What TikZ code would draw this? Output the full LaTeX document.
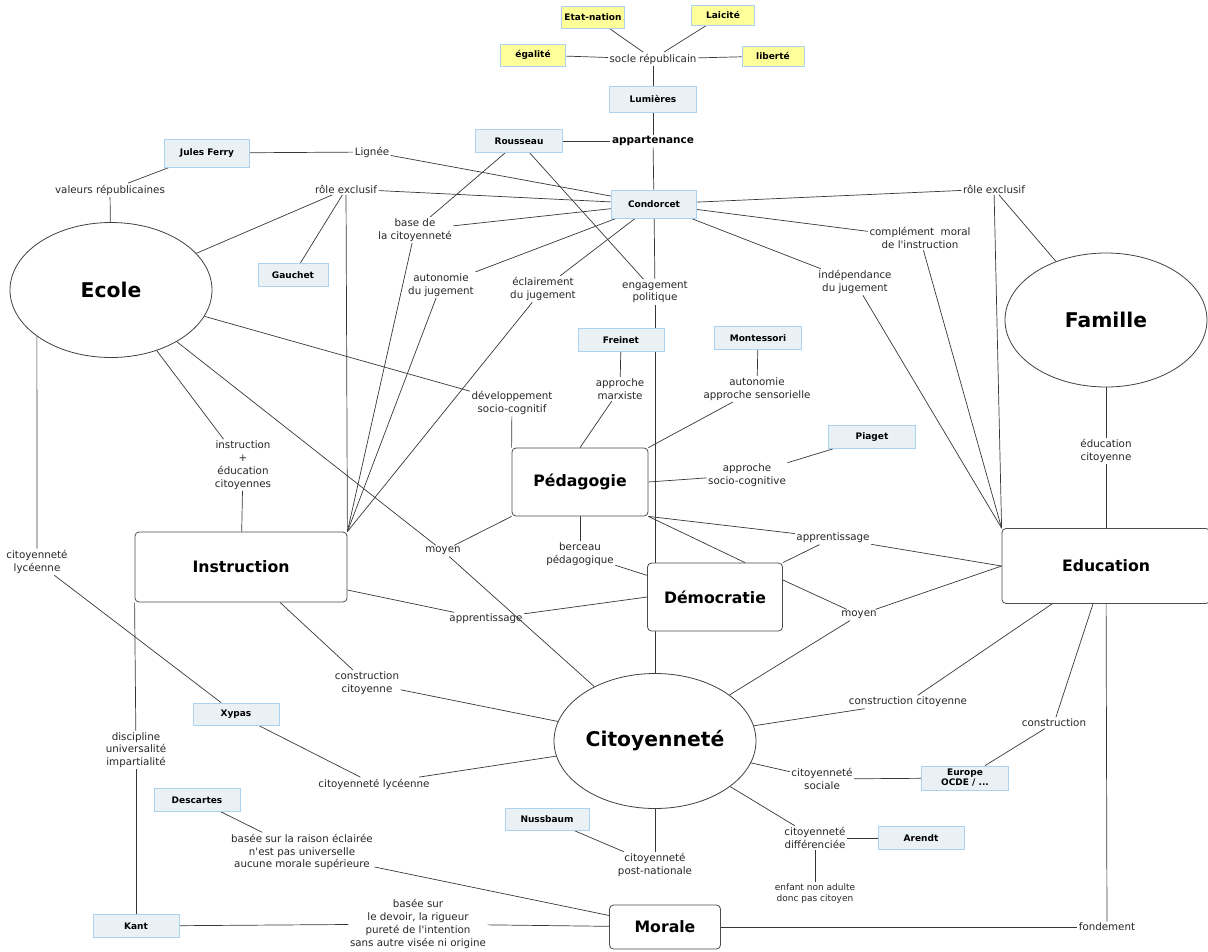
\documentclass[tikz,border=0pt]{standalone}
\usepackage{fontspec}
\setmainfont{DejaVu Sans}
\usetikzlibrary{shapes.geometric,backgrounds}
\definecolor{cbfill}{RGB}{233,241,245}
\definecolor{cbdraw}{RGB}{172,210,240}
\definecolor{ylw}{RGB}{255,255,153}
\definecolor{ln}{RGB}{55,55,55}
\tikzset{
  lbl/.style={align=center,font=\fontsize{10.3}{12.8}\selectfont,inner sep=1.5pt,text=black!85},
  person/.style={draw=cbdraw,fill=cbfill,font=\bfseries\fontsize{9}{10.5}\selectfont,minimum width=86pt,minimum height=23pt,inner sep=0pt,line width=0.8pt},
  ybox/.style={person,fill=ylw},
  mainbox/.style={draw=black!70,fill=white,rounded corners=4pt,font=\bfseries\fontsize{15.7}{18}\selectfont,inner sep=0pt,line width=0.8pt},
  bigell/.style={ellipse,draw=black!75,fill=white,font=\bfseries\fontsize{20.3}{24}\selectfont,inner sep=0pt,minimum width=202pt,minimum height=135pt,line width=0.8pt},
  conn/.style={draw=ln,line width=0.7pt},
}
\begin{document}
\begin{tikzpicture}[x=1pt,y=-1pt]
\useasboundingbox (0,0) rectangle (1208,951);

% yellow boxes
\node[ybox,minimum width=63pt,minimum height=22pt] (etat) at (593,17) {Etat-nation};
\node[ybox,minimum width=63pt,minimum height=20pt] (laic) at (723,15) {Laicité};
\node[ybox,minimum width=65pt,minimum height=22pt] (egal) at (533,55) {égalité};
\node[ybox,minimum width=62pt,minimum height=20pt] (lib) at (773,56) {liberté};

% person / concept boxes
\node[person,minimum width=87pt,minimum height=26pt] (lum) at (653,99) {Lumières};
\node[person,minimum width=87pt] (rous) at (519,141) {Rousseau};
\node[person,minimum width=85pt,minimum height=28pt] (cond) at (654,204) {Condorcet};
\node[person,minimum width=85pt,minimum height=28pt] (ferry) at (207,153) {Jules Ferry};
\node[person,minimum width=70pt] (gauchet) at (293,275) {Gauchet};
\node[person] (freinet) at (621,340) {Freinet};
\node[person,minimum width=87pt] (mont) at (758,338) {Montessori};
\node[person,minimum width=87pt] (piaget) at (872,437) {Piaget};
\node[person,minimum height=22pt] (xypas) at (236,714) {Xypas};
\node[person] (desc) at (197,800) {Descartes};
\node[person,minimum width=84pt,minimum height=22pt] (nuss) at (547,819) {Nussbaum};
\node[person,minimum width=87pt,minimum height=24pt,align=center,font=\bfseries\fontsize{9}{10}\selectfont] (europe) at (965,778) {Europe\\OCDE / ...};
\node[person] (arendt) at (921,838) {Arendt};
\node[person] (kant) at (136,926) {Kant};

% main boxes
\node[mainbox,minimum width=136pt,minimum height=68pt] (peda) at (580,482) {Pédagogie};
\node[mainbox,minimum width=212pt,minimum height=70pt] (instr) at (241,567) {Instruction};
\node[mainbox,minimum width=208pt,minimum height=75pt] (edu) at (1106,566) {Education};
\node[mainbox,minimum width=135pt,minimum height=68pt] (demo) at (715,597) {Démocratie};
\node[mainbox,minimum width=111pt,minimum height=44pt] (morale) at (665,927) {Morale};

% ellipses
\node[bigell] (ecole) at (111,290) {Ecole};
\node[bigell,minimum height=134pt] (famille) at (1106,320) {Famille};
\node[bigell] (citoy) at (655,741) {Citoyenneté};

% linking labels
\node[lbl] (socle) at (653,59) {socle républicain};
\node[lbl,font=\bfseries\fontsize{10.5}{12}\selectfont,text=black] (appart) at (653,141) {appartenance};
\node[lbl] (lignee) at (372,152) {Lignée};
\node[lbl] (valeurs) at (110,190) {valeurs républicaines};
\node[lbl] (role1) at (346,189) {rôle exclusif};
\node[lbl] (base) at (415,230) {base de\\la citoyenneté};
\node[lbl] (autoj) at (441,285) {autonomie\\du jugement};
\node[lbl] (eclj) at (543,289) {éclairement\\du jugement};
\node[lbl] (engag) at (655,292) {engagement\\politique};
\node[lbl] (role2) at (994,189) {rôle exclusif};
\node[lbl] (compl) at (920,238) {complément\ \ moral\\de l\textquotesingle instruction};
\node[lbl] (indep) at (855,282) {indépendance\\du jugement};
\node[lbl] (marx) at (620,389) {approche\\marxiste};
\node[lbl] (sens) at (757,389) {autonomie\\approche sensorielle};
\node[lbl] (devsc) at (512,403) {développement\\socio-cognitif};
\node[lbl] (sociocog) at (747,475) {approche\\socio-cognitive};
\node[lbl] (educit) at (1106,451) {éducation\\citoyenne};
\node[lbl] (instred) at (243,465) {instruction\\+\\éducation\\citoyennes};
\node[lbl] (moyen1) at (443,551) {moyen};
\node[lbl] (berceau) at (580,554) {berceau\\pédagogique};
\node[lbl] (appr2) at (833,538) {apprentissage};
\node[lbl] (appr1) at (486,619) {apprentissage};
\node[lbl] (moyen2) at (859,615) {moyen};
\node[lbl] (cly1) at (37,562) {citoyenneté\\lycéenne};
\node[lbl] (constr1) at (367,683) {construction\\citoyenne};
\node[lbl] (discip) at (136,750) {discipline\\universalité\\impartialité};
\node[lbl] (constr2) at (908,702) {construction citoyenne};
\node[lbl] (constr3) at (1054,723) {construction};
\node[lbl] (cly2) at (374,784) {citoyenneté lycéenne};
\node[lbl] (csoc) at (822,779) {citoyenneté\\sociale};
\node[lbl] (raison) at (302,852) {basée sur la raison éclairée\\n\textquotesingle est pas universelle\\aucune morale supérieure};
\node[lbl] (cdiff) at (815,838) {citoyenneté\\différenciée};
\node[lbl] (postnat) at (655,865) {citoyenneté\\post-nationale};
\node[lbl,font=\fontsize{9}{11}\selectfont] (enfant) at (815,894) {enfant non adulte\\donc pas citoyen};
\node[lbl] (devoir) at (418,924) {basée sur\\le devoir, la rigueur\\pureté de l\textquotesingle intention\\sans autre visée ni origine};
\node[lbl] (fondement) at (1107,927) {fondement};

\begin{scope}[on background layer]
\draw[conn] (etat) -- (socle);
\draw[conn] (laic) -- (socle);
\draw[conn] (egal) -- (socle);
\draw[conn] (socle) -- (lib);
\draw[conn] (socle) -- (lum);
\draw[conn] (lum) -- (appart);
\draw[conn] (rous) -- (appart);
\draw[conn] (appart) -- (cond);
\draw[conn] (ferry) -- (lignee);
\draw[conn] (lignee) -- (cond);
\draw[conn] (ferry) -- (valeurs);
\draw[conn] (valeurs) -- (ecole);
\draw[conn] (role1) -- (cond);
\draw[conn] (role1) -- (ecole);
\draw[conn] (role1) -- (gauchet);
\draw[conn] (role1) -- (instr.north east);
\draw[conn] (rous) -- (base);
\draw[conn] (base) -- (cond);
\draw[conn] (base) -- (instr.north east);
\draw[conn] (autoj) -- (cond);
\draw[conn] (autoj) -- (instr.north east);
\draw[conn] (eclj) -- (cond);
\draw[conn] (eclj) -- (instr.north east);
\draw[conn] (rous) -- (engag);
\draw[conn] (cond) -- (engag);
\draw[conn] (engag) -- (citoy);
\draw[conn] (cond) -- (role2);
\draw[conn] (cond) -- (compl);
\draw[conn] (cond) -- (indep);
\draw[conn] (role2) -- (famille);
\draw[conn] (role2) -- (edu.north west);
\draw[conn] (compl) -- (edu.north west);
\draw[conn] (indep) -- (edu.north west);
\draw[conn] (famille) -- (educit);
\draw[conn] (educit) -- (edu);
\draw[conn] (ecole) -- (instred);
\draw[conn] (instred) -- (instr);
\draw[conn] (ecole) -- (devsc);
\draw[conn] (devsc) -- (peda.north west);
\draw[conn] (ecole) -- (moyen1);
\draw[conn] (moyen1) -- (peda.south west);
\draw[conn] (moyen1) -- (citoy);
\draw[conn] (peda.north) -- (marx);
\draw[conn] (marx) -- (freinet);
\draw[conn] (mont) -- (sens);
\draw[conn] (sens) -- (peda.north east);
\draw[conn] (peda.east) -- (sociocog);
\draw[conn] (sociocog) -- (piaget);
\draw[conn] (peda.south) -- (berceau);
\draw[conn] (berceau) -- (demo);
\draw[conn] (peda.south east) -- (appr2);
\draw[conn] (peda.south east) -- ([xshift=30pt]demo.north);
\draw[conn] (demo.north east) -- (appr2);
\draw[conn] (appr2) -- (edu.west);
\draw[conn] ([yshift=17pt]demo.east) -- (moyen2);
\draw[conn] (moyen2) -- (edu.west);
\draw[conn] (moyen2) -- (citoy);
\draw[conn] ([yshift=-23pt]instr.east) -- (appr1);
\draw[conn] (appr1) -- (demo.west);
\draw[conn] ([xshift=39pt]instr.south) -- (constr1);
\draw[conn] (constr1) -- (citoy);
\draw[conn] (ecole.212) -- (cly1);
\draw[conn] (cly1) -- (xypas);
\draw[conn] (xypas) -- (cly2);
\draw[conn] (cly2) -- (citoy);
\draw[conn] (instr.south west) -- (discip);
\draw[conn] (discip) -- (kant);
\draw[conn] (desc) -- (raison);
\draw[conn] (raison) -- (morale);
\draw[conn] (kant) -- (devoir);
\draw[conn] (devoir) -- (morale);
\draw[conn] (morale) -- (fondement);
\draw[conn] (fondement) -- (edu);
\draw[conn] (nuss) -- (postnat);
\draw[conn] (citoy) -- (postnat);
\draw[conn] (citoy) -- (cdiff);
\draw[conn] (cdiff) -- (arendt);
\draw[conn] (cdiff) -- (enfant);
\draw[conn] (citoy) -- (csoc);
\draw[conn] (csoc) -- (europe);
\draw[conn] (europe) -- (constr3);
\draw[conn] (constr3) -- ([xshift=-13pt]edu.south);
\draw[conn] (citoy) -- (constr2);
\draw[conn] (constr2) -- ([xshift=-54pt]edu.south);
\end{scope}
\end{tikzpicture}
\end{document}
